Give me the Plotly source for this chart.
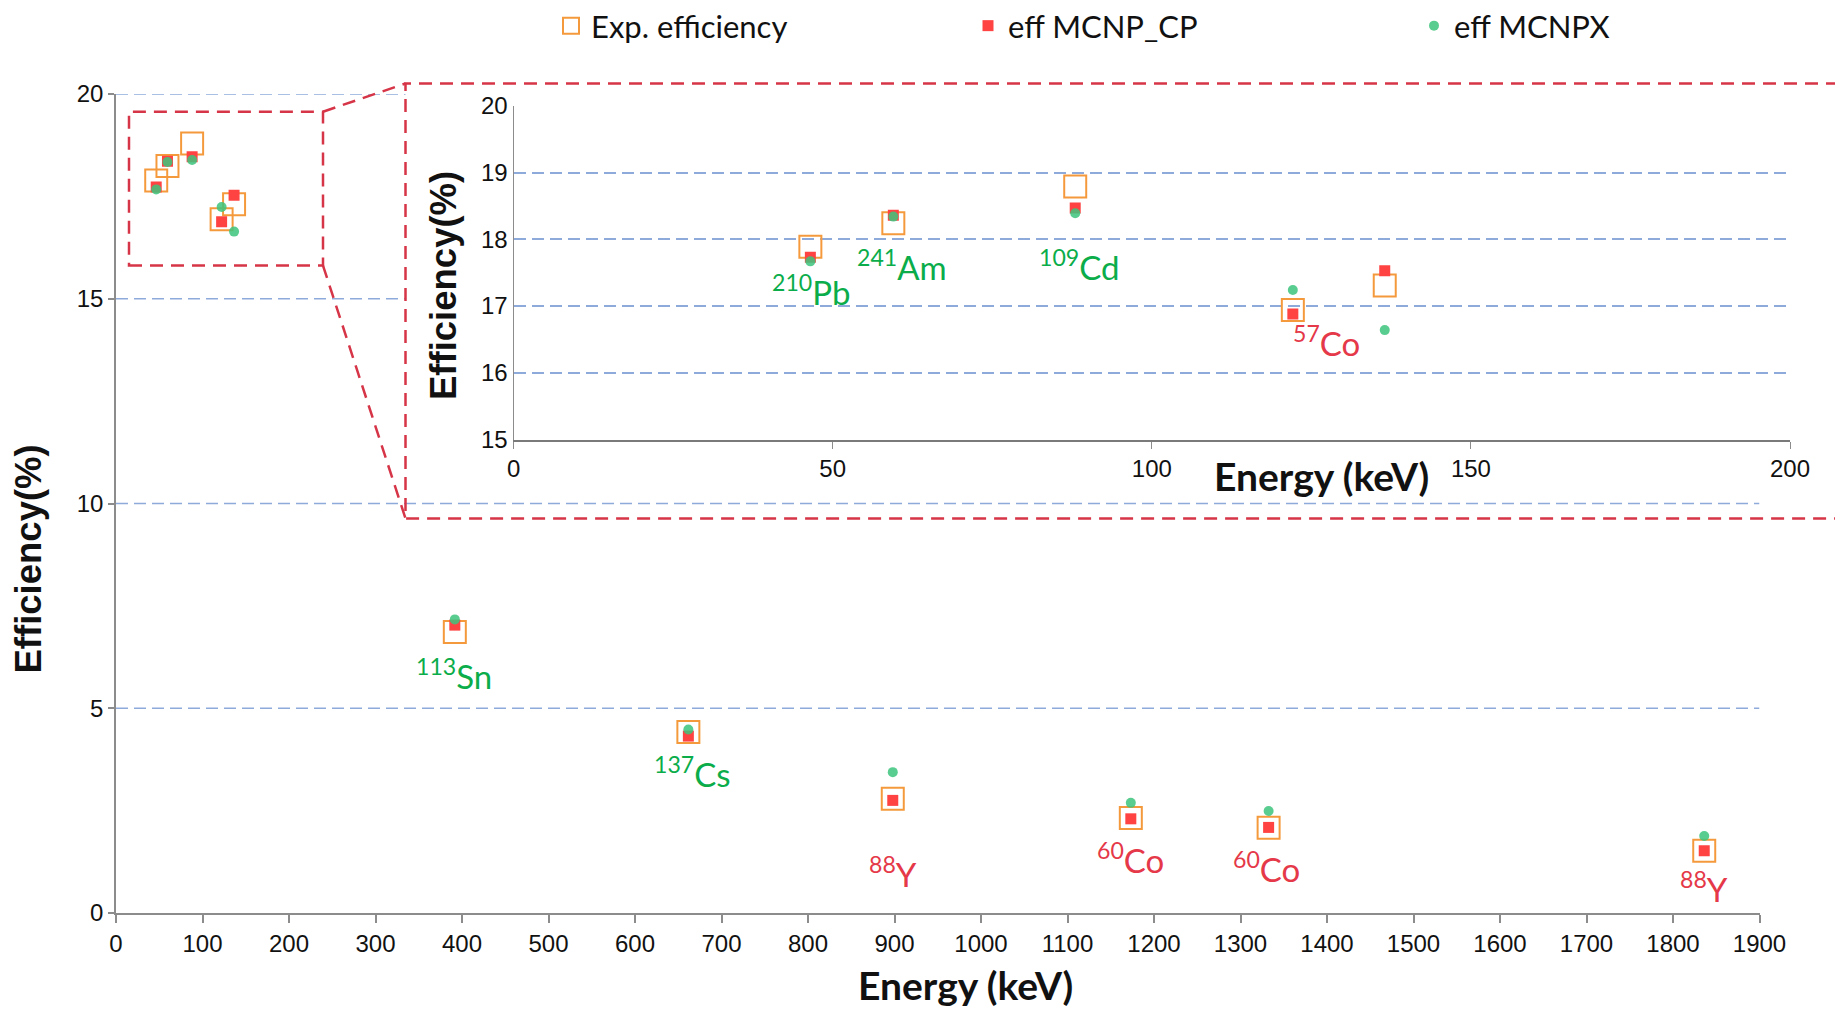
import plotly.graph_objects as go

# ---------------- data ----------------
energy_low = [46.5, 59.5, 88.0, 122.1, 136.5]
exp_low = [17.89, 18.24, 18.79, 16.94, 17.31]
cp_low = [17.73, 18.36, 18.47, 16.88, 17.53]
mcnpx_low = [17.67, 18.34, 18.39, 17.24, 16.64]

energy_high = [391.7, 661.7, 898.0, 1173.2, 1332.5, 1836.1]
exp_high = [6.86, 4.42, 2.79, 2.32, 2.08, 1.52]
cp_high = [7.03, 4.32, 2.75, 2.30, 2.09, 1.52]
mcnpx_high = [7.17, 4.48, 3.44, 2.69, 2.49, 1.88]

series_names = ["Exp. efficiency", "eff MCNP_CP", "eff MCNPX"]

main_label_mass = ["113", "137", "88", "60", "60", "88"]
main_label_elem = ["Sn", "Cs", "Y", "Co", "Co", "Y"]
main_label_x = [391, 667, 898, 1173, 1330, 1836]
main_label_y = [5.83, 3.44, 1.0, 1.35, 1.12, 0.63]
main_label_green = [True, True, False, False, False, False]

inset_label_mass = ["210", "241", "109", "57"]
inset_label_elem = ["Pb", "Am", "Cd", "Co"]
inset_label_x = [46.6, 60.8, 88.6, 127.3]
inset_label_y = [17.24, 17.62, 17.62, 16.48]
inset_label_green = [True, True, True, False]

main_xticks = list(range(0, 2000, 100))
main_yticks = [0, 5, 10, 15, 20]
inset_xticks = [0, 50, 100, 150, 200]
inset_yticks = [15, 16, 17, 18, 19, 20]

# ---------------- style ----------------
OFF = 8  # page body margin
W, H = 1843 - OFF, 1009 - OFF
ML, MR, MT, MB = 116 - OFF, 40, 94 - OFF, 96
PW, PH = W - ML - MR, H - MT - MB


def px(x):  # screenshot pixel -> paper x
    return (x - OFF - ML) / PW


def py(y):  # screenshot pixel -> paper y
    return (H - MB - (y - OFF)) / PH


ORANGE = "#f59a3c"
RED = "#ff4343"
GREEN = "#3cc47c"
LBL_GREEN = "#0aad4a"
LBL_RED = "#e53848"
GRID = "#8eaadb"
BOX = "#d63447"
AXIS = "#8c8c8c"
TICKFONT = dict(family="Liberation Sans, Arial", size=24, color="#111111")

fig = go.Figure()

all_x = energy_low + energy_high
all_exp = exp_low + exp_high
all_cp = cp_low + cp_high
all_px = mcnpx_low + mcnpx_high

sym_exp = dict(symbol="square-open", size=22, color=ORANGE, line=dict(width=2, color=ORANGE))
sym_cp = dict(symbol="square", size=11, color=RED, line=dict(width=0))
sym_px = dict(symbol="circle", size=10, color=GREEN, opacity=0.85, line=dict(width=0))

# main plot traces
fig.add_trace(go.Scatter(x=all_x, y=all_exp, mode="markers", marker=sym_exp,
                         name=series_names[0], legend="legend", xaxis="x", yaxis="y"))
fig.add_trace(go.Scatter(x=all_x, y=all_cp, mode="markers", marker=sym_cp,
                         name=series_names[1], legend="legend2", xaxis="x", yaxis="y"))
fig.add_trace(go.Scatter(x=all_x, y=all_px, mode="markers", marker=sym_px,
                         name=series_names[2], legend="legend3", xaxis="x", yaxis="y"))
# inset traces
fig.add_trace(go.Scatter(x=energy_low, y=exp_low, mode="markers", marker=sym_exp,
                         showlegend=False, xaxis="x2", yaxis="y2"))
fig.add_trace(go.Scatter(x=energy_low, y=cp_low, mode="markers", marker=sym_cp,
                         showlegend=False, xaxis="x2", yaxis="y2"))
fig.add_trace(go.Scatter(x=energy_low, y=mcnpx_low, mode="markers", marker=sym_px,
                         showlegend=False, xaxis="x2", yaxis="y2"))

# ---------------- shapes ----------------
shapes = []
dash_grid = "12px,6px"
box_left_data = (405.5 - 116) / (1759.5 - 116) * 1900  # data x of inset box edge
for gy in main_yticks[1:]:
    x_end = 1900 if gy < 12 else box_left_data
    shapes.append(dict(type="line", xref="x", yref="y", x0=0, x1=x_end, y0=gy, y1=gy,
                       line=dict(color=GRID, width=1.6, dash=dash_grid), layer="below"))

box_line = dict(color=BOX, width=2.5, dash="13px,8px")
# small zoom box
shapes.append(dict(type="rect", xref="paper", yref="paper", x0=px(129), x1=px(323),
                   y0=py(265.6), y1=py(111.7), line=box_line))
# big inset box (extends past right edge)
shapes.append(dict(type="path", xref="paper", yref="paper",
                   path=f"M {px(1860)},{py(83.5)} L {px(405.5)},{py(83.5)} L {px(405.5)},{py(518.4)} L {px(1860)},{py(518.4)}",
                   line=box_line))
# connectors
shapes.append(dict(type="line", xref="paper", yref="paper", x0=px(323), y0=py(111.7),
                   x1=px(405.5), y1=py(83.5), line=box_line))
shapes.append(dict(type="line", xref="paper", yref="paper", x0=px(323), y0=py(265.6),
                   x1=px(405.5), y1=py(518.4), line=box_line))

# ---------------- annotations ----------------
ann = []
for m, e, x, y, g in zip(main_label_mass, main_label_elem, main_label_x, main_label_y, main_label_green):
    ann.append(dict(x=x, y=y, xref="x", yref="y", text=f"<sup>{m}</sup>{e}", showarrow=False,
                    xanchor="center", yanchor="middle",
                    font=dict(family="Lato", size=33, color=LBL_GREEN if g else LBL_RED)))
for m, e, x, y, g in zip(inset_label_mass, inset_label_elem, inset_label_x, inset_label_y, inset_label_green):
    ann.append(dict(x=x, y=y, xref="x2", yref="y2", text=f"<sup>{m}</sup>{e}", showarrow=False,
                    xanchor="center", yanchor="middle",
                    font=dict(family="Lato", size=33, color=LBL_GREEN if g else LBL_RED)))

title_font_x = dict(family="Lato", size=39, color="#111111", weight="bold")
title_font_y = dict(family="Liberation Sans, Arial", size=36.5, color="#111111", weight="bold")
ann.append(dict(x=px(965), y=py(985), xref="paper", yref="paper", text="<b>Energy (keV)</b>",
                showarrow=False, xanchor="center", yanchor="middle", font=title_font_x))
ann.append(dict(x=px(28), y=py(559.5), xref="paper", yref="paper", text="<b>Efficiency(%)</b>",
                showarrow=False, textangle=-90, xanchor="center", yanchor="middle", font=title_font_y))
ann.append(dict(x=px(1321), y=py(476), xref="paper", yref="paper", text="<b>Energy (keV)</b>",
                showarrow=False, xanchor="center", yanchor="middle", font=title_font_x))
ann.append(dict(x=px(443), y=py(286), xref="paper", yref="paper", text="<b>Efficiency(%)</b>",
                showarrow=False, textangle=-90, xanchor="center", yanchor="middle", font=title_font_y))

main_xdom = [0, px(1759.5)]

fig.update_layout(
    width=W, height=H,
    margin=dict(l=ML, r=MR, t=MT, b=MB, autoexpand=False),
    paper_bgcolor="white", plot_bgcolor="rgba(0,0,0,0)",
    xaxis=dict(domain=main_xdom, range=[0, 1900], tickvals=main_xticks, showgrid=False,
               zeroline=False, showline=True, linecolor=AXIS, linewidth=1.5,
               ticks="outside", ticklen=8, tickcolor=AXIS, tickwidth=1.5, tickfont=TICKFONT),
    yaxis=dict(domain=[0, 1], range=[0, 20], tickvals=main_yticks, showgrid=False,
               zeroline=False, showline=True, linecolor=AXIS, linewidth=1.5,
               ticks="outside", ticklen=6, tickcolor=AXIS, tickwidth=1.5, tickfont=TICKFONT,
               ticksuffix="\u00a0\u00a0"),
    xaxis2=dict(domain=[px(513.6), px(1790)], range=[0, 200], tickvals=inset_xticks, showgrid=False,
                zeroline=False, showline=True, linecolor="#7a7a7a", linewidth=2, anchor="y2",
                ticks="outside", ticklen=7, tickcolor=AXIS, tickwidth=1.2, tickfont=TICKFONT),
    yaxis2=dict(domain=[py(439.6), py(105.8)], range=[15, 20], tickvals=inset_yticks,
                showgrid=True, gridcolor=GRID, gridwidth=1.6, griddash=dash_grid,
                zeroline=False, showline=True, linecolor=AXIS, linewidth=1.2, anchor="x2",
                ticks="", tickfont=TICKFONT),
    shapes=shapes,
    annotations=ann,
    showlegend=True,
)

leg_font = dict(family="Lato", size=31, color="#111111")
for key, xpix in (("legend", 551), ("legend2", 968), ("legend3", 1414)):
    fig.update_layout(**{key: dict(x=px(xpix), xanchor="left", y=py(26), yanchor="middle",
                                   font=leg_font, bgcolor="rgba(0,0,0,0)", borderwidth=0)})

fig.write_html("out.html")
